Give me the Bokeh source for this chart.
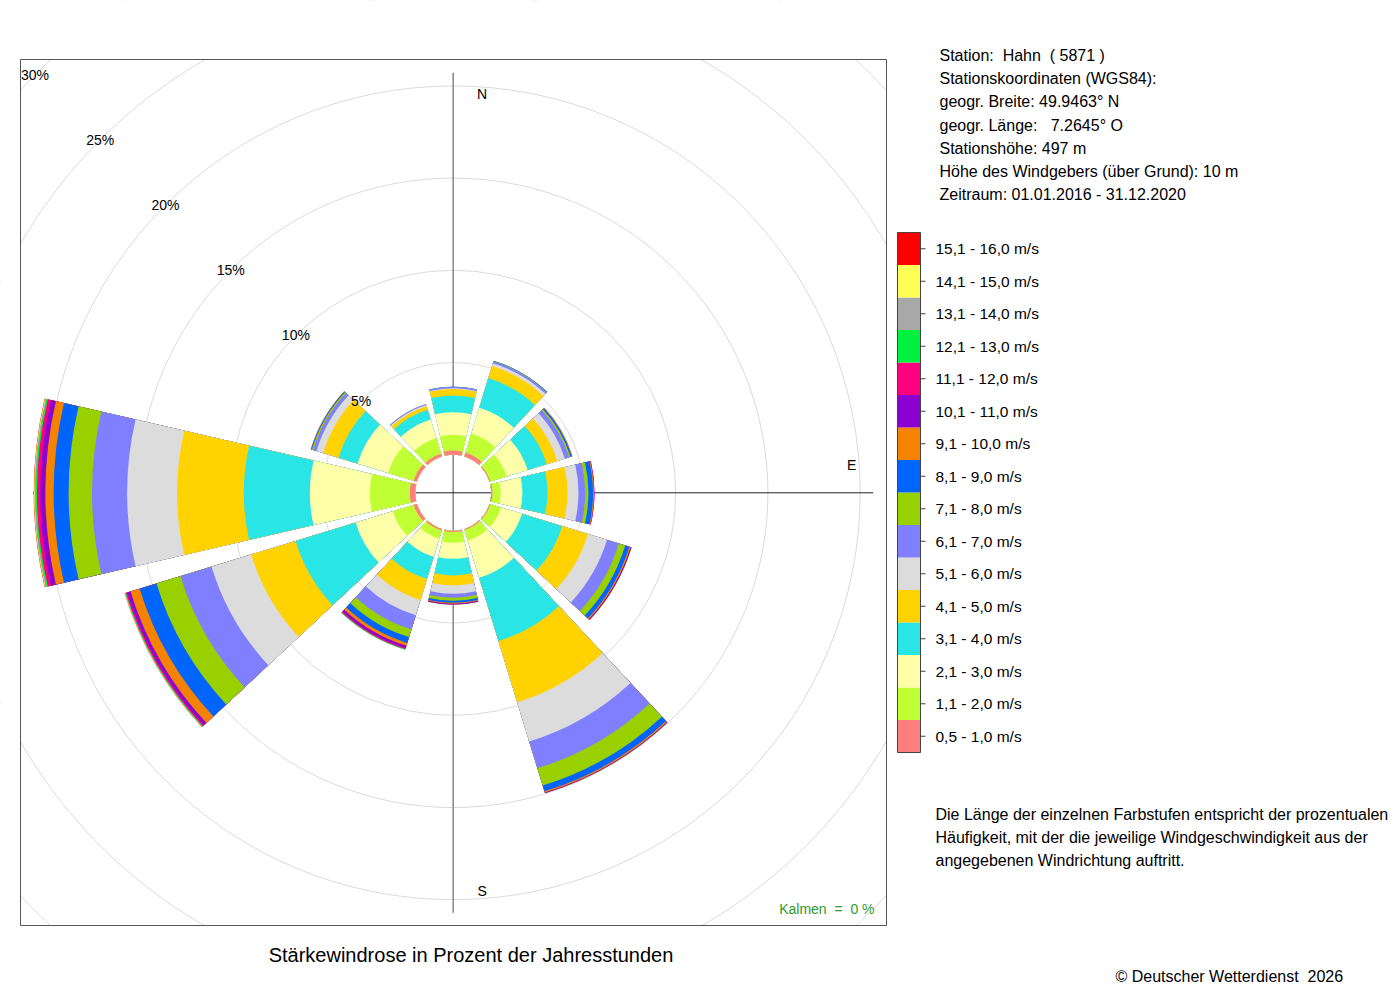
import numpy as np
from bokeh.plotting import figure
from bokeh.models import Range1d, ColumnDataSource
from bokeh.embed import file_html
from bokeh.resources import INLINE
from bokeh.core.properties import value

# ---------------- data ----------------
directions = [0, 30, 60, 90, 120, 150, 180, 210, 240, 270, 300, 330]

speed_classes = ["0,5 - 1,0 m/s", "1,1 - 2,0 m/s", "2,1 - 3,0 m/s", "3,1 - 4,0 m/s",
                 "4,1 - 5,0 m/s", "5,1 - 6,0 m/s", "6,1 - 7,0 m/s", "7,1 - 8,0 m/s",
                 "8,1 - 9,0 m/s", "9,1 - 10,0 m/s", "10,1 - 11,0 m/s", "11,1 - 12,0 m/s",
                 "12,1 - 13,0 m/s", "13,1 - 14,0 m/s", "14,1 - 15,0 m/s", "15,1 - 16,0 m/s"]

class_colors = ["#FF7F7F", "#BFFF33", "#FFFFAA", "#2AE5E5", "#FFD200", "#DCDCDC",
                "#7F7FFF", "#99D100", "#0064FF", "#F58200", "#8C00D2", "#FF007F",
                "#00F040", "#A8A8A8", "#FFFF55", "#FF0000"]

# percentage of hours per speed class (index = class) for each direction
freq_000 = [0.23, 0.85, 1.23, 0.90, 0.36, 0.04, 0.07, 0.01, 0.01, 0, 0, 0, 0, 0, 0, 0]
freq_030 = [0.22, 1.08, 1.46, 1.68, 0.68, 0.16, 0.10, 0.02, 0.02, 0.01, 0, 0, 0, 0, 0, 0]
freq_060 = [0.05, 0.92, 1.19, 1.08, 0.60, 0.43, 0.24, 0.08, 0.07, 0.03, 0.01, 0, 0, 0, 0, 0]
freq_090 = [0.07, 0.44, 1.18, 1.36, 1.08, 0.60, 0.36, 0.18, 0.25, 0.05, 0.02, 0.01, 0, 0, 0, 0]
freq_120 = [0.05, 0.60, 1.19, 2.28, 1.46, 1.08, 0.67, 0.36, 0.23, 0.07, 0.04, 0.02, 0.01, 0, 0, 0]
freq_150 = [0.05, 0.60, 2.11, 3.58, 3.47, 2.22, 1.52, 0.98, 0.33, 0.07, 0.03, 0.01, 0.01, 0, 0, 0]
freq_180 = [0.07, 0.58, 0.87, 0.90, 0.54, 0.45, 0.22, 0.16, 0.11, 0.05, 0.03, 0.02, 0.01, 0, 0, 0]
freq_210 = [0.08, 0.46, 1.03, 1.25, 1.19, 0.87, 0.81, 0.43, 0.33, 0.16, 0.12, 0.07, 0.03, 0.01, 0, 0]
freq_240 = [0.18, 1.18, 2.11, 3.41, 2.51, 2.25, 1.76, 1.36, 0.95, 0.52, 0.18, 0.08, 0.04, 0.02, 0.01, 0.01]
freq_270 = [0.29, 2.17, 3.25, 3.58, 3.61, 2.71, 1.90, 1.27, 0.81, 0.45, 0.27, 0.18, 0.08, 0.05, 0.03, 0.02]
freq_300 = [0.18, 1.45, 1.73, 1.08, 0.87, 0.38, 0.19, 0.07, 0.04, 0.02, 0.01, 0, 0, 0, 0, 0]
freq_330 = [0.15, 0.90, 1.05, 0.55, 0.20, 0.07, 0.05, 0.01, 0, 0, 0, 0, 0, 0, 0, 0]

ring_values = [5, 10, 15, 20, 25, 30]
ring_labels = ["5%", "10%", "15%", "20%", "25%", "30%"]
compass_labels = ["N", "E", "S", "W"]
compass_bearings = [0, 90, 180, 270]

NB = "\u00a0"
info_lines = ["Station:" + NB * 2 + "Hahn" + NB * 2 + "( 5871 )",
              "Stationskoordinaten (WGS84):",
              "geogr. Breite: 49.9463\u00b0 N",
              "geogr. L\u00e4nge:" + NB * 3 + "7.2645\u00b0 O",
              "Stationsh\u00f6he: 497 m",
              "H\u00f6he des Windgebers (\u00fcber Grund): 10 m",
              "Zeitraum: 01.01.2016 - 31.12.2020"]
note_lines = ["Die L\u00e4nge der einzelnen Farbstufen entspricht der prozentualen",
              "H\u00e4ufigkeit, mit der die jeweilige Windgeschwindigkeit aus der",
              "angegebenen Windrichtung auftritt."]
title_text = "St\u00e4rkewindrose in Prozent der Jahresstunden"
calm_text = "Kalmen" + NB * 2 + "=" + NB * 2 + "0 %"
copyright_text = "\u00a9 Deutscher Wetterdienst" + NB * 2 + "2026"

freqs = [freq_000, freq_030, freq_060, freq_090, freq_120, freq_150,
         freq_180, freq_210, freq_240, freq_270, freq_300, freq_330]

# ---------------- layout ----------------
W, H = 1392, 992
OFF = 0               # page offset of the canvas
PX = 18.45            # pixels per percent
HOLE = 38.0 / PX      # inner empty circle (in % units)
CX, CY = 452.7, 492.3 # page position of the rose centre
HALF = 13.0           # half sector width in degrees
FONT = value("Liberation Sans")


def P(X, Y):
    """page pixel -> data coordinates"""
    return (X - CX) / PX, (CY - Y) / PX


p = figure(width=W, height=H, output_backend="svg", toolbar_location=None,
           x_axis_location=None, y_axis_location=None, min_border=0,
           x_range=Range1d(-(CX - OFF) / PX, (W - (CX - OFF)) / PX),
           y_range=Range1d(-(H - (CY - OFF)) / PX, (CY - OFF) / PX))
p.grid.visible = False
p.outline_line_color = None
p.background_fill_color = "white"
p.border_fill_color = "white"

# grid circles
p.circle(x=[0] * len(ring_values), y=[0] * len(ring_values),
         radius=[HOLE + v for v in ring_values],
         fill_color=None, line_color="#DADADA", line_width=1)

# axis lines
AX = 420 / PX
p.segment(x0=[0], y0=[-AX], x1=[0], y1=[AX], line_color="#8C8C8C", line_width=1.6)
p.segment(x0=[-AX], y0=[0], x1=[AX], y1=[0], line_color="#222222", line_width=1)

# compass labels (W sits below the bars)
LR, LO = 21.6, 1.57
cx_, cy_ = [], []
for b in compass_bearings:
    a = np.radians(b)
    x = LR * np.sin(a)
    y = LR * np.cos(a)
    if b in (0, 180):
        x += LO
    else:
        y += LO * 0.97
    cx_.append(x)
    cy_.append(y)
p.text(x=cx_, y=cy_, text=compass_labels, text_font=FONT, text_font_size="14px",
       text_align="center", text_baseline="middle", text_color="black")

# bars: stacked annular wedges, drawn outermost first
rows = dict(inner=[], outer=[], start=[], end=[], color=[])
for d, f in zip(directions, freqs):
    cum = np.cumsum(f)
    a0 = np.radians(90 - d - HALF)
    a1 = np.radians(90 - d + HALF)
    for k in range(len(f) - 1, -1, -1):
        if f[k] <= 0:
            continue
        rows["inner"].append(HOLE)
        rows["outer"].append(HOLE + cum[k])
        rows["start"].append(a0)
        rows["end"].append(a1)
        rows["color"].append(class_colors[k])
p.annular_wedge(x=0, y=0, inner_radius="inner", outer_radius="outer",
                start_angle="start", end_angle="end", fill_color="color",
                line_color=None, source=ColumnDataSource(rows))

# white masks outside the plot square
FL, FT = P(20, 59)
FR, FB = P(886, 925)
xr0, xr1 = p.x_range.start, p.x_range.end
yr0, yr1 = p.y_range.start, p.y_range.end
p.quad(left=[xr0, FR, xr0, xr0], right=[FL, xr1, xr1, xr1],
       top=[yr1, yr1, yr1, FB], bottom=[yr0, yr0, FT, yr0],
       fill_color="white", line_color=None)
# frame
p.quad(left=[FL], right=[FR], top=[FT], bottom=[FB], fill_color=None,
       line_color="#555555", line_width=1)

# ring labels along NW
rl = [HOLE + v for v in ring_values]
p.text(x=[-r * np.sin(np.pi / 4) for r in rl], y=[r * np.cos(np.pi / 4) for r in rl],
       text=ring_labels, text_font=FONT, text_font_size="14px",
       text_align="center", text_baseline="middle", text_color="black")

# calm
kx, ky = P(874, 908)
p.text(x=[kx], y=[ky], text=[calm_text], text_font=FONT, text_font_size="14px",
       text_align="right", text_baseline="middle", text_color="#2E9A2E")

# title
tx, ty = P(470.5, 954)
p.text(x=[tx], y=[ty], text=[title_text], text_font=FONT, text_font_size="20px",
       text_align="center", text_baseline="middle", text_color="black")

# station info
ix = [P(939, 0)[0]] * len(info_lines)
iy = [P(0, 55 + 23.2 * i)[1] for i in range(len(info_lines))]
p.text(x=ix, y=iy, text=info_lines, text_font=FONT, text_font_size="16px",
       text_align="left", text_baseline="middle", text_color="black")

# legend (colour scale)
n = len(speed_classes)
cell = 32.5
top0 = 232.0
lefts, rights, tops, bottoms, cols, lx, ly, labs = [], [], [], [], [], [], [], []
for k in range(n):
    j = n - 1 - k  # row from top
    l_, t_ = P(897, top0 + cell * j)
    r_, b_ = P(920, top0 + cell * (j + 1))
    lefts.append(l_); rights.append(r_); tops.append(t_); bottoms.append(b_)
    cols.append(class_colors[k])
    lx.append(P(935, 0)[0])
    ly.append(P(0, top0 + cell * (j + 0.5))[1])
    labs.append(speed_classes[k])
p.quad(left=lefts, right=rights, top=tops, bottom=bottoms, fill_color=cols, line_color=None)
bl, bt = P(897, top0)
br, bb = P(920, top0 + cell * n)
p.quad(left=[bl], right=[br], top=[bt], bottom=[bb], fill_color=None,
       line_color="#444444", line_width=1)
tk0 = P(920, 0)[0]
tk1 = P(925, 0)[0]
p.segment(x0=[tk0] * n, y0=ly, x1=[tk1] * n, y1=ly, line_color="#444444", line_width=1)
p.text(x=lx, y=ly, text=labs, text_font=FONT, text_font_size="15.5px",
       text_align="left", text_baseline="middle", text_color="black")

# explanatory note
nx = [P(935, 0)[0]] * len(note_lines)
ny = [P(0, 814 + 23 * i)[1] for i in range(len(note_lines))]
p.text(x=nx, y=ny, text=note_lines, text_font=FONT, text_font_size="16px",
       text_align="left", text_baseline="middle", text_color="black")

# copyright
cxp, cyp = P(1115, 976)
p.text(x=[cxp], y=[cyp], text=[copyright_text], text_font=FONT, text_font_size="16px",
       text_align="left", text_baseline="middle", text_color="black")

open("out.html", "w").write(file_html(p, INLINE))
